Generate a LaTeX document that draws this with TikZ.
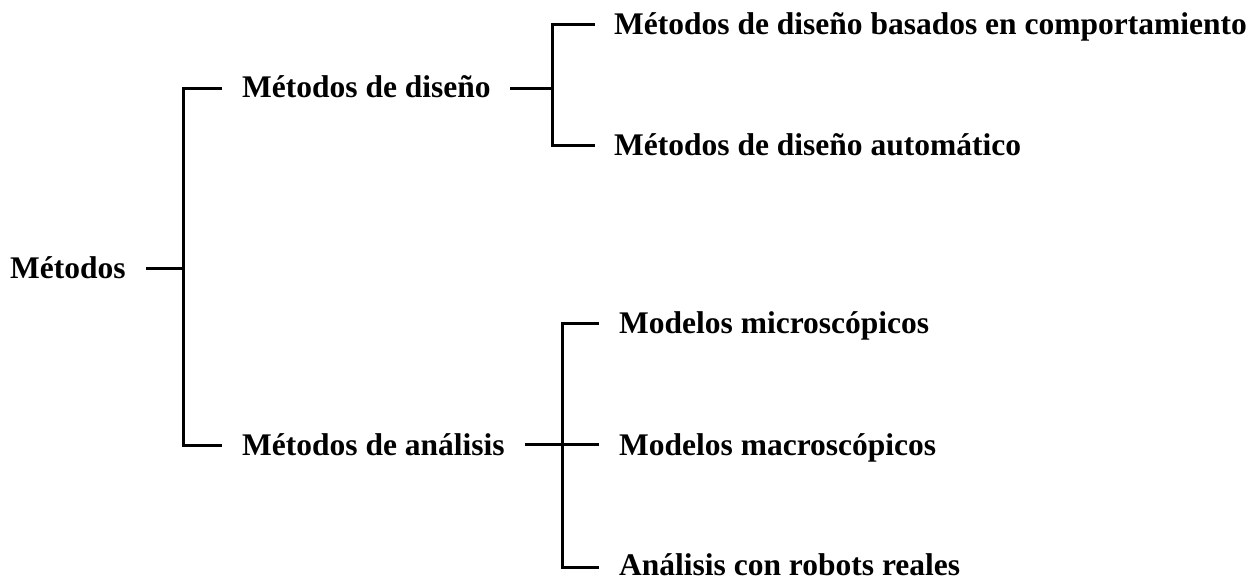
\documentclass[tikz,border=0pt]{standalone}
\usepackage{fontspec}
\setmainfont{Liberation Serif}
\begin{document}
\begin{tikzpicture}[x=1pt,y=-1pt,
  lbl/.style={anchor=base west,inner sep=0pt,font=\fontsize{31.5}{37}\selectfont\bfseries},
  tree/.style={line width=3pt,line cap=butt,line join=miter}]
\useasboundingbox (0,0) rectangle (1258,578);

% labels
\node[lbl] (root) at (10,278) {Métodos};
\node[lbl] (dis)  at (242,97) {Métodos de diseño};
\node[lbl] (ana)  at (242,455) {Métodos de análisis};
\node[lbl] (beh)  at (614,35) {Métodos de diseño basados en comportamiento};
\node[lbl] (aut)  at (614,155) {Métodos de diseño automático};
\node[lbl] (mic)  at (619,333) {Modelos microscópicos};
\node[lbl] (mac)  at (619,455) {Modelos macroscópicos};
\node[lbl] (rea)  at (619,575) {Análisis con robots reales};

% bracket points
\coordinate (r0) at (146,268);
\coordinate (r1) at (183,268);
\coordinate (rt) at (183,88);
\coordinate (rb) at (183,445);
\coordinate (rte) at (222,88);
\coordinate (rbe) at (222,445);

\coordinate (d0) at (510,88);
\coordinate (d1) at (552,88);
\coordinate (dt) at (552,25);
\coordinate (db) at (552,145);
\coordinate (dte) at (595,25);
\coordinate (dbe) at (595,145);

\coordinate (a0) at (525,444);
\coordinate (a1) at (562,444);
\coordinate (at) at (562,323);
\coordinate (ab) at (562,567);
\coordinate (ate) at (599,323);
\coordinate (ame) at (599,444);
\coordinate (abe) at (599,567);

% connectors
\draw[tree] (r0) -- (r1);
\draw[tree] (rte) -- (rt) -- (rb) -- (rbe);

\draw[tree] (d0) -- (d1);
\draw[tree] (dte) -- (dt) -- (db) -- (dbe);

\draw[tree] (a0) -- (ame);
\draw[tree] (ate) -- (at) -- (ab) -- (abe);
\end{tikzpicture}
\end{document}
